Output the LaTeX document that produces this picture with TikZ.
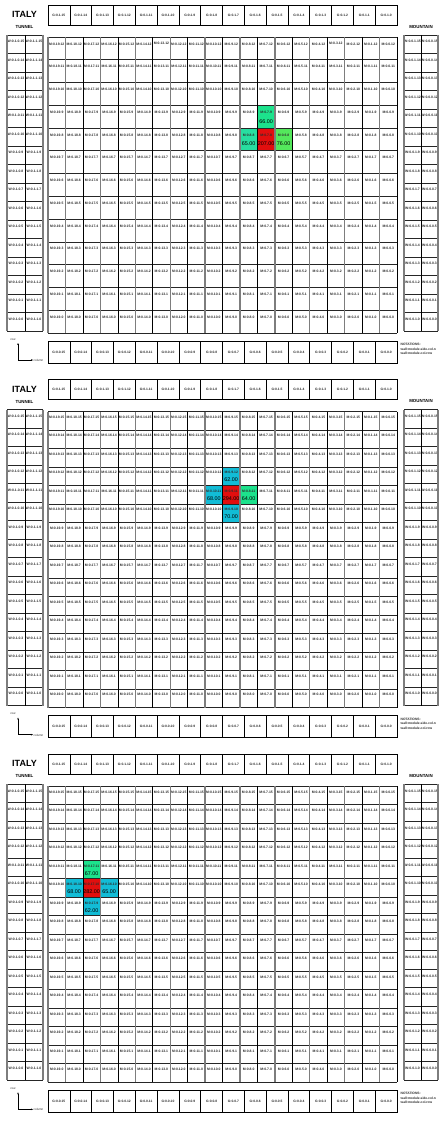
\documentclass[tikz,border=0pt]{standalone}
\usepackage{fontspec}
\setmainfont{Liberation Sans}
\usetikzlibrary{arrows.meta}
\definecolor{hred}{RGB}{226,14,14}
\definecolor{hgreenA}{RGB}{28,226,140}
\definecolor{hgreenB}{RGB}{40,222,160}
\definecolor{hgreenC}{RGB}{84,232,92}
\definecolor{hcyan}{RGB}{18,188,214}
\definecolor{gridgray}{RGB}{125,125,125}
\definecolor{labgray}{RGB}{45,45,45}
\tikzset{
  celllab/.style={font=\fontsize{3.4}{4}\selectfont\bfseries, text=labgray, inner sep=0pt},
  vallab/.style={font=\fontsize{5.4}{6}\selectfont, text=black, inner sep=0pt},
  glab/.style={font=\fontsize{3.3}{4}\selectfont\bfseries, text=labgray, inner sep=0pt},
  thinline/.style={line width=0.5pt, draw=black},
  grayline/.style={line width=1.3pt, draw=gridgray},
  hline/.style={line width=0.8pt, draw=black!85},
  gbox/.style={draw=black, line width=0.6pt},
  titlelab/.style={font=\fontsize{9}{10}\selectfont\bfseries, inner sep=0pt},
  sublab/.style={font=\fontsize{4.4}{5}\selectfont\bfseries, inner sep=0pt},
  notelab/.style={font=\fontsize{3.3}{4}\selectfont\bfseries, inner sep=0pt, anchor=west, text=labgray},
  axlab/.style={font=\fontsize{3}{4}\selectfont, inner sep=0pt, text=labgray},
  axarrow/.style={line width=0.5pt, -{Stealth[length=2pt,width=1.6pt]}},
}
\newcommand\mypanel[4]{%
\begin{scope}[yshift=-#2pt]
 \pgfmathsetmacro\rh{296/#3}
 \pgfmathtruncatemacro\rmax{#3-1}
 % titles
 \node[titlelab] (italy#1) at (24.5,14.5) {ITALY};
 \node[sublab] (tunnel#1) at (24.5,27) {TUNNEL};
 \node[sublab] (mountain#1) at (421,26.5) {MOUNTAIN};
 % top and bottom G rows
 \foreach \k in {0,...,15}{
   \pgfmathtruncatemacro\gn{15-\k}
   \draw[gbox] ({48+\k*21.8125},5) rectangle ++(21.8125,20);
   \node[glab] (gt#1-\k) at ({48+(\k+0.5)*21.8125},15) {G:0.1.\gn};
   \draw[gbox] ({48+\k*21.8125},341) rectangle ++(21.8125,22);
   \node[glab] (gb#1-\k) at ({48+(\k+0.5)*21.8125},352) {G:0.0.\gn};
 }
 % highlight fills
 \foreach \ci/\ri/\hc/\hv in {#4}{
   \fill[\hc] ({48+\ci*17.45},{37+\ri*\rh}) rectangle ++(17.45,\rh);
   \node[vallab] (v#1-\ci-\ri) at ({48+(\ci+0.5)*17.45},{37+(\ri+0.7)*\rh}) {\hv};
 }
 % main grid labels
 \foreach \ci in {0,...,19}{
   \foreach \ri in {0,...,\rmax}{
     \pgfmathtruncatemacro\cn{19-\ci}
     \pgfmathtruncatemacro\rn{\rmax-\ri}
     \node[celllab] (m#1-\ci-\ri) at ({48+(\ci+0.5)*17.45},{37+\ri*\rh+0.3*\rh}) {M:0.\cn.\rn};
   }}
 % main grid lines
 \foreach \ri in {0,...,#3}{
   \draw[hline] (48,{37+\ri*\rh}) -- (397,{37+\ri*\rh});
 }
 \foreach \k in {1,3,...,19}{
   \draw[grayline] ({48+\k*17.45},37) -- ({48+\k*17.45},333);
 }
 \foreach \k in {0,2,...,20}{
   \draw[thinline] ({48+\k*17.45},37) -- ({48+\k*17.45},333);
 }
 \draw[grayline] (48,37) -- (48,333);
 % side walls
 \foreach \ri in {0,...,15}{
   \pgfmathtruncatemacro\rn{15-\ri}
   \node[celllab] (wl#1-0-\ri) at (16,{35+\ri*18.5+6.5}) {W:0.1.0.\rn};
   \node[celllab] (wl#1-1-\ri) at (34,{35+\ri*18.5+6.5}) {W:0.1.1.\rn};
   \node[celllab] (wr#1-0-\ri) at (412.5,{35+\ri*18.5+6.5}) {W:0.0.1.\rn};
   \node[celllab] (wr#1-1-\ri) at (429.5,{35+\ri*18.5+6.5}) {W:0.0.0.\rn};
 }
 \foreach \ri in {0,...,16}{
   \draw[hline] (7,{35+\ri*18.5}) -- (43,{35+\ri*18.5});
   \draw[hline] (404,{35+\ri*18.5}) -- (438,{35+\ri*18.5});
 }
 \draw[grayline] (7,35) -- (7,331);
 \draw[grayline] (43,35) -- (43,331);
 \draw[thinline] (25,35) -- (25,331);
 \draw[grayline] (404,35) -- (404,331);
 \draw[grayline] (438,35) -- (438,331);
 \draw[thinline] (421,35) -- (421,331);
 % axes
 \coordinate (ao#1) at (18,360);
 \coordinate (ar#1) at (18,343);
 \coordinate (ac#1) at (33,360);
 \draw[axarrow] (ao#1) -- (ar#1);
 \draw[axarrow] (ao#1) -- (ac#1);
 \node[axlab] (rowlab#1) at (13,339.5) {row};
 \node[axlab, anchor=west] (collab#1) at (33.5,360.3) {column};
 % notations
 \node[notelab] (nt#1) at (400.5,344.5) {NOTATIONS:};
 \node[notelab] (na#1) at (400.5,349) {wall:module.side.col.n};
 \node[notelab] (nb#1) at (400.5,353.2) {wall:module.col.row};
\end{scope}}
\begin{document}
\begin{tikzpicture}[x=1pt,y=-1pt]
 \useasboundingbox (0,0) rectangle (442,1124);
 \fill[white] (0,0) rectangle (442,1124);
 \mypanel{1}{0}{13}{12/3/hgreenA/66.00, 11/4/hgreenB/65.00, 12/4/hred/207.00, 13/4/hgreenC/76.00}
 \mypanel{2}{374.67}{16}{10/3/hcyan/62.00, 9/4/hcyan/68.00, 10/4/hred/294.00, 11/4/hgreenA/64.00, 10/5/hcyan/70.00}
 \mypanel{3}{749.33}{16}{2/4/hgreenA/67.00, 1/5/hcyan/68.00, 2/5/hred/282.00, 3/5/hcyan/65.00, 2/6/hcyan/62.00}
\end{tikzpicture}
\end{document}
